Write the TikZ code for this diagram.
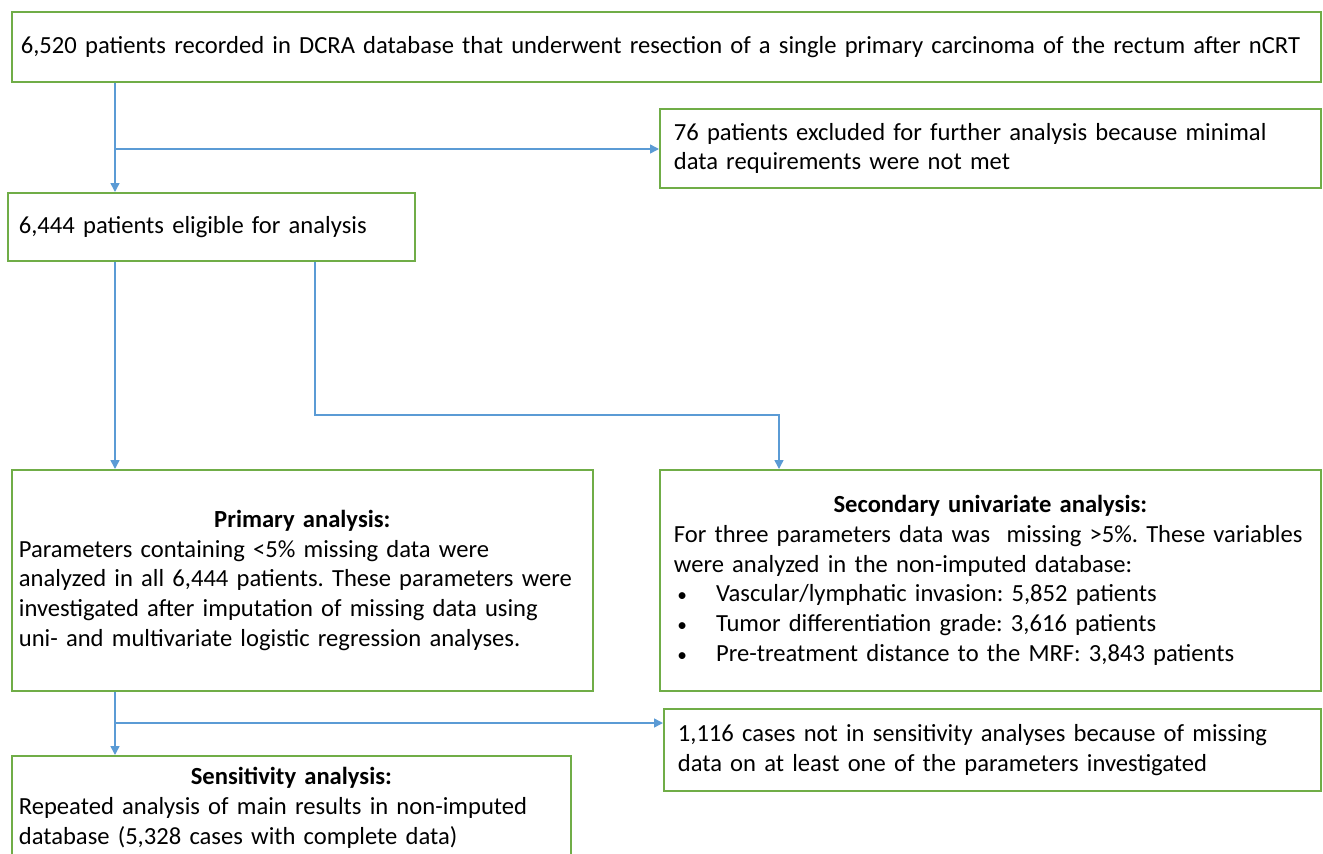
\documentclass[tikz,border=0pt]{standalone}
\usepackage{fontspec}
\setmainfont{Carlito}
\usetikzlibrary{arrows.meta}
\frenchspacing

\definecolor{boxgreen}{RGB}{112,173,71}
\definecolor{flowblue}{RGB}{91,155,213}

\tikzset{
  box/.style={draw=boxgreen, line width=1pt, rectangle, anchor=north west,
    align=left, inner ysep=0pt, font=\fontsize{14}{17}\selectfont},
  flow/.style={draw=flowblue, line width=0.85pt, -{Triangle[length=5pt,width=5pt]}}
}

\begin{document}
\begin{tikzpicture}[x=0.02cm, y=-0.02cm]

    % Frame of the whole picture
    \useasboundingbox (0,0) rectangle (1323,853);
    \clip (0,0) rectangle (1323,853);

    % Boxes, top to bottom
    \node[box, minimum width=26.18cm, minimum height=1.40cm, inner xsep=0.18cm, text width=25.82cm]
      (total) at (11,11)
      {6,520 patients recorded in DCRA database that underwent resection of a single primary carcinoma of the rectum after nCRT};

    \node[box, minimum width=13.22cm, minimum height=1.58cm, inner xsep=0.28cm, text width=12.66cm]
      (excluded) at (659,108)
      {76 patients excluded for further analysis because minimal\\data requirements were not met};

    \node[box, minimum width=8.14cm, minimum height=1.36cm, inner xsep=0.22cm, text width=7.70cm]
      (eligible) at (7,192)
      {6,444 patients eligible for analysis};

    \node[box, minimum width=11.62cm, minimum height=4.42cm, inner xsep=0.14cm, text width=11.34cm]
      (primary) at (11,469)
      {\makebox[11.34cm]{\textbf{Primary analysis:}}\\
       Parameters containing <5\% missing data were\\
       analyzed in all 6,444 patients. These parameters were\\
       investigated after imputation of missing data using\\
       uni- and multivariate logistic regression analyses.};

    \node[box, minimum width=13.22cm, minimum height=4.42cm, inner xsep=0.28cm, text width=12.66cm]
      (secondary) at (659,469)
      {\makebox[12.66cm]{\textbf{Secondary univariate analysis:}}\\
       For three parameters data was\ \ missing >5\%. These variables\\
       were analyzed in the non-imputed database:\\
       \hspace*{2pt}\makebox[22pt][l]{\fontsize{11}{11}\selectfont\textbullet}Vascular/lymphatic invasion: 5,852 patients\\
       \hspace*{2pt}\makebox[22pt][l]{\fontsize{11}{11}\selectfont\textbullet}Tumor differentiation grade: 3,616 patients\\
       \hspace*{2pt}\makebox[22pt][l]{\fontsize{11}{11}\selectfont\textbullet}Pre-treatment distance to the MRF: 3,843 patients};

    \node[box, minimum width=13.14cm, minimum height=1.64cm, inner xsep=0.28cm, text width=12.58cm]
      (missing) at (663,708)
      {1,116 cases not in sensitivity analyses because of missing\\data on at least one of the parameters investigated};

    \node[box, minimum width=11.18cm, minimum height=2.08cm, inner xsep=0.14cm, text width=10.90cm]
      (sensitivity) at (11,755)
      {\makebox[10.90cm]{\textbf{Sensitivity analysis:}}\\
       Repeated analysis of main results in non-imputed\\
       database (5,328 cases with complete data)};

    % Points where the lines split or bend
    \coordinate (split1) at (115,149);
    \coordinate (elbow) at (315,415);
    \coordinate (bend) at (779,415);
    \coordinate (split2) at (115,723);

    % Connectors
    \draw[flow] (total.south -| split1) -- (eligible.north -| split1);
    \draw[flow] (split1) -- (split1 -| excluded.west);
    \draw[flow] (eligible.south -| split1) -- (primary.north -| split1);
    \draw[flow] (eligible.south -| elbow) -- (elbow) -- (bend) -- (secondary.north -| bend);
    \draw[flow] (primary.south -| split2) -- (sensitivity.north -| split2);
    \draw[flow] (split2) -- (split2 -| missing.west);

\end{tikzpicture}
\end{document}
